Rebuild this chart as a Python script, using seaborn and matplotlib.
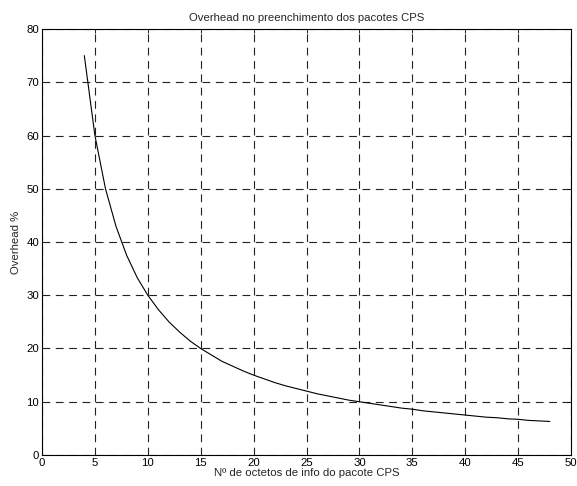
import matplotlib
matplotlib.use("Agg")
import matplotlib.pyplot as plt
import seaborn as sns
import pandas as pd

# octets of info per CPS packet and the overhead
octets = list(range(4, 49))
overhead = [75.0, 60.0, 50.0, 42.9, 37.5, 33.3, 30.0, 27.3, 25.0, 23.1,
            21.4, 20.0, 18.8, 17.6, 16.7, 15.8, 15.0, 14.3, 13.6, 13.0,
            12.5, 12.0, 11.5, 11.1, 10.7, 10.3, 10.0, 9.7, 9.4, 9.1,
            8.8, 8.6, 8.3, 8.1, 7.9, 7.7, 7.5, 7.3, 7.1, 7.0,
            6.8, 6.7, 6.5, 6.4, 6.3]

xticks = list(range(0, 51, 5))
yticks = list(range(0, 81, 10))

df = pd.DataFrame({"octets": octets, "overhead": overhead})

sns.set_style("white")
plt.rcParams["font.family"] = ["Liberation Sans", "DejaVu Sans"]
fs = 8.2

fig = plt.figure(figsize=(5.77, 4.86), dpi=100)
ax = fig.add_axes([0.0728, 0.0638, 0.9168, 0.8765])

sns.lineplot(data=df, x="octets", y="overhead", ax=ax, color="black", linewidth=0.8)

ax.set_xlim(0, 50)
ax.set_ylim(0, 80)
ax.set_xticks(xticks)
ax.set_yticks(yticks)
ax.grid(True, color="#222222", linestyle=(0, (7, 5)), linewidth=0.8)
ax.tick_params(direction="in", length=3, width=0.6, colors="black", labelsize=fs, pad=2,
               top=True, right=True)
for sp in ax.spines.values():
    sp.set_color("black")
    sp.set_linewidth(0.8)

ax.set_title("Overhead no preenchimento dos pacotes CPS", fontsize=fs, pad=6)
ax.set_xlabel("Nº de octetos de info do pacote CPS", fontsize=fs, labelpad=0)
ax.set_ylabel("Overhead %", fontsize=fs, labelpad=4)

fig.savefig("out.png", dpi=100)
